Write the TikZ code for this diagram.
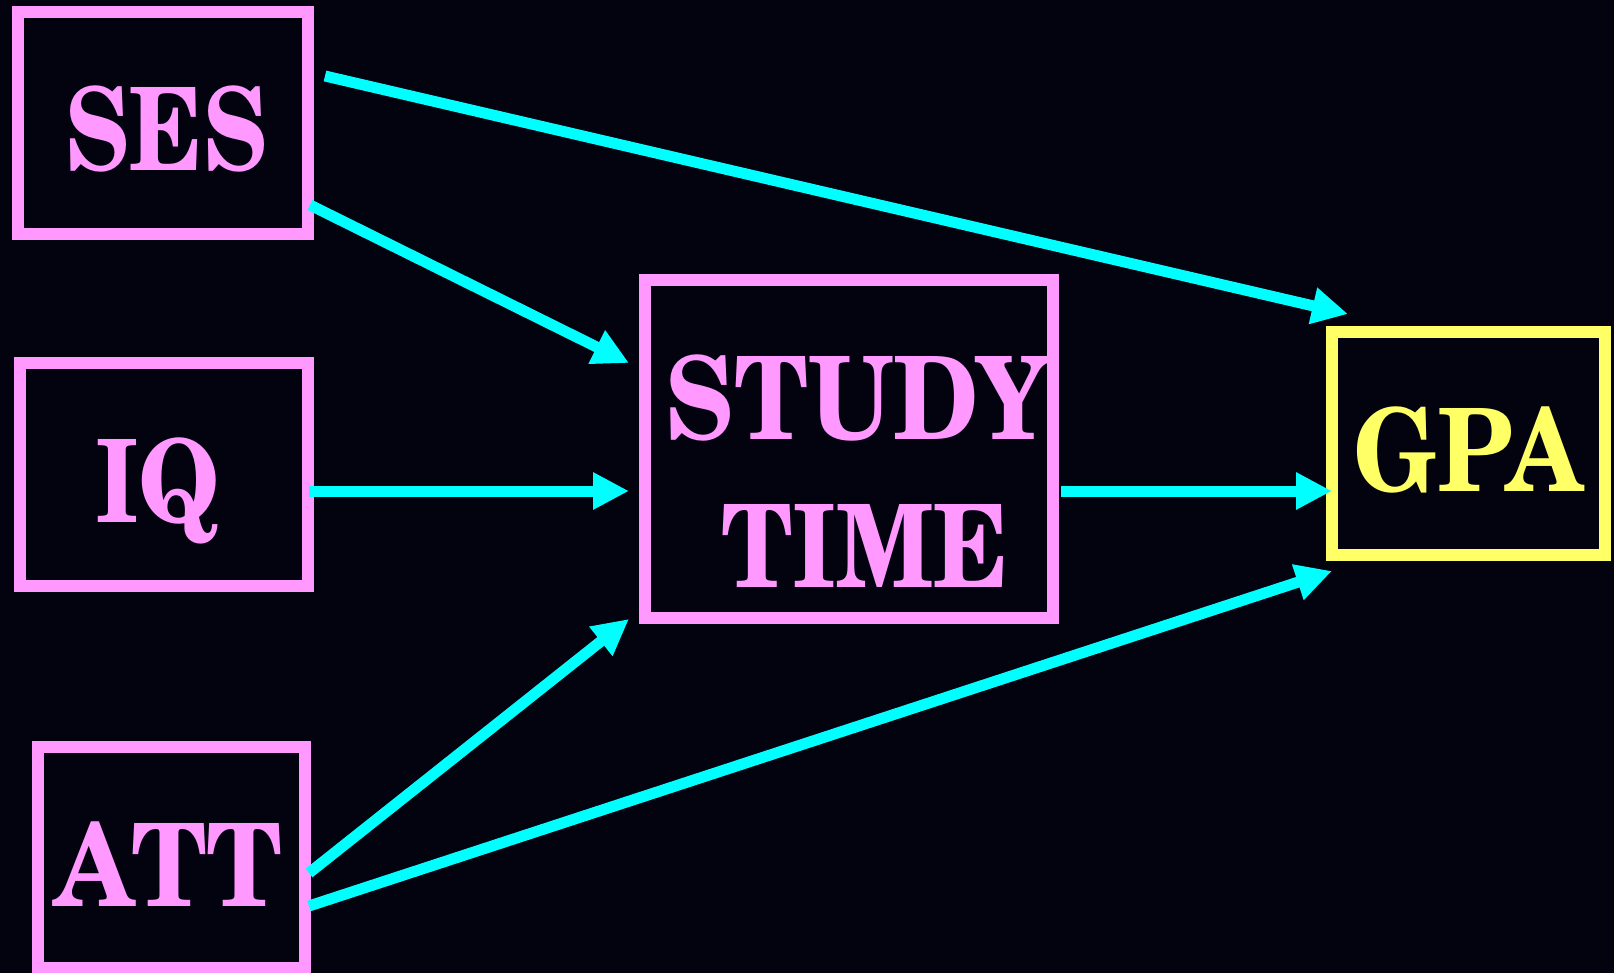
\documentclass[tikz,border=0pt]{standalone}
\usepackage{fontspec}
\usepackage{graphicx}
\setmainfont{TeX Gyre Schola}
\usetikzlibrary{arrows.meta}
\definecolor{bg}{HTML}{03020F}
\definecolor{pinkc}{HTML}{FF99FF}
\definecolor{yellowc}{HTML}{FFFF66}
\definecolor{cyanc}{HTML}{00FFFF}
\begin{document}
\begin{tikzpicture}[x=1pt,y=-1pt,
  box/.style={draw=pinkc,line width=12pt,inner sep=0pt,outer sep=0pt},
  lbl/.style={inner sep=0pt,anchor=base,text=pinkc,font=\fontsize{115}{120}\selectfont\bfseries},
  conn/.style={draw=cyanc,line width=11pt,-{Triangle[length=36pt,width=35pt]}}]
\useasboundingbox (0,0) rectangle (1614,973);
\fill[bg] (0,0) rectangle (1614,973);
% boxes
\node[box,minimum width=290pt,minimum height=222pt] (ses) at (163,123) {};
\node[box,minimum width=288pt,minimum height=223pt] (iq) at (164,474.5) {};
\node[box,minimum width=267pt,minimum height=221pt] (att) at (171,857.5) {};
\node[box,minimum width=408pt,minimum height=338pt] (study) at (849,449) {};
\node[box,draw=yellowc,minimum width=273pt,minimum height=223pt] (gpa) at (1468.5,443.5) {};
% labels
\node[lbl] (sest) at (166.5,171) {\scalebox{0.838}[1]{SES}};
\node[lbl] (iqt) at (158,522) {\scalebox{0.855}[1]{IQ}};
\node[lbl] (attt) at (168.5,906) {\scalebox{0.914}[1]{ATT}};
\node[lbl] (studyt) at (858,439) {\scalebox{0.892}[1]{STUDY}};
\node[lbl] (timet) at (865,587) {\scalebox{0.861}[1]{TIME}};
\node[lbl,text=yellowc] (gpat) at (1468,491) {\scalebox{0.876}[1]{GPA}};
% connectors
\draw[conn] ([shift={(17,64)}]ses.north east) -- ([shift={(16,-18)}]gpa.north west);
\draw[conn] ([shift={(2,-29)}]ses.south east) -- ([shift={(-16,83)}]study.north west);
\draw[conn] ([shift={(1,16.5)}]iq.east) -- ([shift={(-16,42)}]study.west);
\draw[conn] ([shift={(8,42)}]study.east) -- ([shift={(0,47.5)}]gpa.west);
\draw[conn] ([shift={(4.5,15.5)}]att.east) -- ([shift={(-16,1)}]study.south west);
\draw[conn] ([shift={(4.5,48.5)}]att.east) -- ([shift={(0,16)}]gpa.south west);
\end{tikzpicture}
\end{document}
